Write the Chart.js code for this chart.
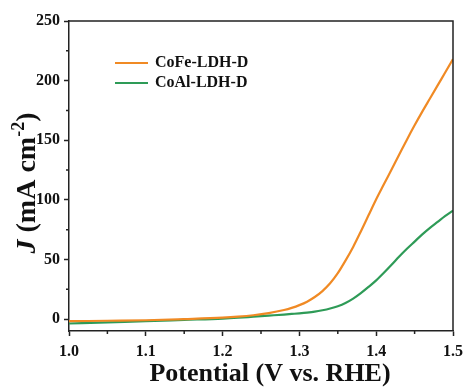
<!DOCTYPE html>
<html>
<head>
<meta charset="utf-8">
<script src="https://cdn.jsdelivr.net/npm/chart.js@4"></script>
<style>
  html, body { margin: 0; padding: 0; background: #fff; }
  #wrap { width: 469px; height: 387px; }
</style>
</head>
<body>
<div id="wrap"><canvas id="chart" width="469" height="387"></canvas></div>
<script>
// LSV curves, current density vs. potential
const potential = [1.00, 1.05, 1.10, 1.15, 1.20, 1.22, 1.24, 1.26, 1.28, 1.29, 1.30, 1.31, 1.32, 1.33, 1.34, 1.35,
  1.36, 1.37, 1.38, 1.39, 1.40, 1.41, 1.42, 1.43, 1.44, 1.45, 1.46, 1.47, 1.48, 1.49, 1.50];
const cofe = [-1.8, -1.4, -1.0, 0, 1.2, 2.0, 3.2, 5.0, 7.6, 9.4, 11.7, 14.6, 18.5, 23.5, 30, 38.5,
  49, 60.5, 73.5, 87, 100.5, 113, 125.5, 138, 150.5, 162.5, 174, 185, 196, 207, 218];
const coal = [-3.7, -2.7, -1.8, -0.7, 0.4, 1.1, 2.0, 2.9, 3.8, 4.3, 4.8, 5.4, 6.2, 7.4, 8.9, 10.8,
  13.5, 17.2, 21.8, 27, 32.5, 38.8, 45.5, 52.5, 59, 65, 71, 76.5, 81.5, 86.5, 91];
const seriesNames = ['CoFe-LDH-D', 'CoAl-LDH-D'];

const xTicks = [1.0, 1.1, 1.2, 1.3, 1.4, 1.5];
const xTickLabels = ['1.0', '1.1', '1.2', '1.3', '1.4', '1.5'];
const xMinor = [1.05, 1.15, 1.25, 1.35, 1.45];
const yTicks = [0, 50, 100, 150, 200, 250];
const yTickLabels = ['0', '50', '100', '150', '200', '250'];
const yMinor = [25, 75, 125, 175, 225];

const SERIF = '"Liberation Serif", "Times New Roman", serif';
const AXIS = '#222';

const pts = ys => potential.map((x, i) => ({ x: x, y: ys[i] }));

// frame, minor ticks, axis titles and legend
const decor = {
  id: 'decor',
  afterDraw(chart) {
    const ctx = chart.ctx;
    const a = chart.chartArea;
    const xs = chart.scales.x, ys = chart.scales.y;
    ctx.save();
    ctx.strokeStyle = AXIS;
    ctx.lineWidth = 1.5;
    ctx.beginPath();
    ctx.moveTo(a.left, a.top);
    ctx.lineTo(a.right, a.top);
    ctx.lineTo(a.right, a.bottom);
    ctx.stroke();

    ctx.beginPath();
    xMinor.forEach(v => {
      const px = xs.getPixelForValue(v);
      ctx.moveTo(px, a.bottom);
      ctx.lineTo(px, a.bottom + 3);
    });
    yMinor.forEach(v => {
      const py = ys.getPixelForValue(v);
      ctx.moveTo(a.left, py);
      ctx.lineTo(a.left - 3, py);
    });
    ctx.stroke();

    // x title
    ctx.fillStyle = '#111';
    ctx.font = 'bold 26px ' + SERIF;
    ctx.textAlign = 'center';
    ctx.textBaseline = 'alphabetic';
    ctx.fillText('Potential (V vs. RHE)', 270, 381);

    // y title: J (mA cm^-2)
    const parts = [
      { t: 'J', f: 'italic bold 28px ' + SERIF, dy: 0 },
      { t: ' (mA cm', f: 'bold 28px ' + SERIF, dy: 0 },
      { t: '-2', f: 'bold 18px ' + SERIF, dy: -11 },
      { t: ')', f: 'bold 28px ' + SERIF, dy: 0 }
    ];
    let total = 0;
    parts.forEach(p => { ctx.font = p.f; p.w = ctx.measureText(p.t).width; total += p.w; });
    ctx.translate(35, 183);
    ctx.rotate(-Math.PI / 2);
    ctx.textAlign = 'left';
    let cx = -total / 2;
    parts.forEach(p => {
      ctx.font = p.f;
      ctx.fillText(p.t, cx, p.dy);
      cx += p.w;
    });
    ctx.setTransform(1, 0, 0, 1, 0, 0);

    // legend
    ctx.font = 'bold 16px ' + SERIF;
    ctx.textAlign = 'left';
    ctx.textBaseline = 'middle';
    chart.data.datasets.forEach((ds, i) => {
      const y = 63 + i * 20;
      ctx.strokeStyle = ds.borderColor;
      ctx.lineWidth = 2.2;
      ctx.beginPath();
      ctx.moveTo(115, y);
      ctx.lineTo(148, y);
      ctx.stroke();
      ctx.fillStyle = '#111';
      ctx.fillText(ds.label, 155, y);
    });
    ctx.restore();
  }
};

new Chart(document.getElementById('chart'), {
  type: 'line',
  data: {
    datasets: [
      { label: seriesNames[0], data: pts(cofe), borderColor: '#F08A24', borderWidth: 2.2, pointRadius: 0, cubicInterpolationMode: 'monotone' },
      { label: seriesNames[1], data: pts(coal), borderColor: '#2E9B57', borderWidth: 2.2, pointRadius: 0, cubicInterpolationMode: 'monotone' }
    ]
  },
  options: {
    responsive: false,
    animation: false,
    layout: { padding: { top: 21, right: 13, left: 0, bottom: 0 } },
    plugins: { legend: { display: false }, tooltip: { enabled: false } },
    scales: {
      x: {
        type: 'linear', min: 1.0, max: 1.5,
        afterBuildTicks: s => { s.ticks = xTicks.map(v => ({ value: v })); },
        afterFit: s => { s.height = 56; },
        ticks: { callback: (v, i) => xTickLabels[i], color: '#111', padding: 6, maxRotation: 0, font: { family: SERIF, size: 16, weight: 'bold' } },
        grid: { drawOnChartArea: false, tickLength: 5, tickColor: AXIS, tickWidth: 1.5 },
        border: { color: AXIS, width: 1.5 }
      },
      y: {
        type: 'linear', min: -10, max: 250,
        afterBuildTicks: s => { s.ticks = yTicks.map(v => ({ value: v })); },
        afterFit: s => { s.width = 69; },
        ticks: { callback: (v, i) => yTickLabels[i], color: '#111', padding: 4, font: { family: SERIF, size: 16, weight: 'bold' } },
        grid: { drawOnChartArea: false, tickLength: 5, tickColor: AXIS, tickWidth: 1.5 },
        border: { color: AXIS, width: 1.5 }
      }
    }
  },
  plugins: [decor]
});
</script>
</body>
</html>
